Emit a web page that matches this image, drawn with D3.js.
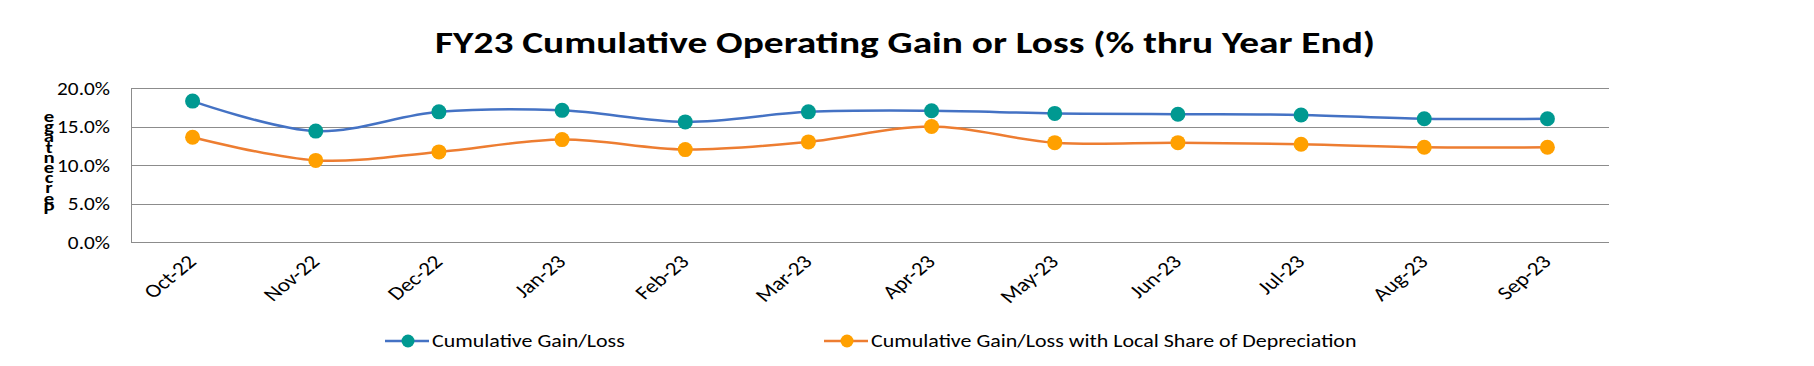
<!DOCTYPE html>
<html lang="en">
<head>
    <meta charset="UTF-8">
    <title>FY23 Cumulative Operating Gain or Loss</title>
    <script src="https://cdn.jsdelivr.net/npm/d3@7"></script>
    <style>
        body { margin: 0; background: #fff; overflow: hidden; }
        text { font-family: Calibri, Carlito, "Open Sans", sans-serif; fill: #000; }
    </style>
</head>
<body>
<svg id="chart" width="1814" height="366"></svg>
<script>
    const months = ['Oct-22', 'Nov-22', 'Dec-22', 'Jan-23', 'Feb-23', 'Mar-23',
        'Apr-23', 'May-23', 'Jun-23', 'Jul-23', 'Aug-23', 'Sep-23'];
    const gainLoss = [18.3, 14.4, 16.9, 17.1, 15.6, 16.9, 17.05, 16.7, 16.6, 16.5, 16.0, 16.0];
    const gainLossDep = [13.6, 10.6, 11.7, 13.3, 12.0, 13.0, 15.0, 12.9, 12.9, 12.7, 12.3, 12.3];
    const yTicks = [0, 5, 10, 15, 20];
    const seriesNames = ['Cumulative Gain/Loss', 'Cumulative Gain/Loss with Local Share of Depreciation'];

    const svg = d3.select('#chart');
    const plotLeft = 131, plotRight = 1609, plotTop = 88, plotBottom = 242;
    // the original export is stretched sideways, so text gets a horizontal scale too
    const stretch = 1.22;

    const x = d3.scaleBand().domain(months).range([plotLeft, plotRight]);
    const y = d3.scaleLinear().domain([0, 20]).range([plotBottom, plotTop]);
    const cx = m => x(m) + x.bandwidth() / 2;

    // title
    svg.append('text')
        .attr('transform', `translate(905,53) scale(1.27,1)`)
        .attr('text-anchor', 'middle')
        .style('font-size', '31px').style('font-weight', 'bold')
        .text('FY23 Cumulative Operating Gain or Loss (% thru Year End)');

    // grid lines
    svg.append('g').selectAll('line').data(yTicks).join('line')
        .attr('x1', plotLeft).attr('x2', plotRight)
        .attr('y1', d => Math.round(y(d)) + 0.5).attr('y2', d => Math.round(y(d)) + 0.5)
        .attr('stroke', '#8c8c8c').attr('stroke-width', 1);
    svg.append('line')
        .attr('x1', plotLeft + 0.5).attr('x2', plotLeft + 0.5)
        .attr('y1', plotTop).attr('y2', plotBottom + 1)
        .attr('stroke', '#8c8c8c');

    // y tick labels
    svg.append('g').selectAll('text').data(yTicks).join('text')
        .attr('transform', d => `translate(110,${y(d)}) scale(1.12,1)`)
        .attr('text-anchor', 'end').attr('dy', '0.35em')
        .style('font-size', '19px')
        .text(d => d.toFixed(1) + '%');

    // squashed vertical axis title, letters stacked bottom to top
    const yTitle = 'Percentage'.split('').reverse();
    svg.append('g').selectAll('text').data(yTitle).join('text')
        .attr('transform', (d, i) => `translate(49,${122 + i * 10.2}) scale(1.3,1)`)
        .attr('text-anchor', 'middle')
        .style('font-size', '16px').style('font-weight', 'bold')
        .text(d => d);

    // x labels
    svg.append('g').selectAll('text').data(months).join('text')
        .attr('transform', d => `translate(${cx(d) + 5},263) scale(${stretch},1) rotate(-45)`)
        .attr('text-anchor', 'end')
        .style('font-size', '19px')
        .text(d => d);

    const line = d3.line()
        .x((d, i) => cx(months[i]))
        .y(d => y(d))
        .curve(d3.curveCatmullRom.alpha(0.5));

    const series = [
        {name: seriesNames[0], values: gainLoss, stroke: '#4472c4', fill: '#009991'},
        {name: seriesNames[1], values: gainLossDep, stroke: '#ed7d31', fill: '#ffa000'}
    ];

    series.forEach(s => {
        svg.append('path')
            .datum(s.values)
            .attr('d', line)
            .attr('fill', 'none')
            .attr('stroke', s.stroke)
            .attr('stroke-width', 2.5);
        svg.append('g').selectAll('circle').data(s.values).join('circle')
            .attr('cx', (d, i) => cx(months[i]))
            .attr('cy', d => y(d))
            .attr('r', 7.5)
            .attr('fill', s.fill);
    });

    // legend
    const legendX = [385, 824];
    const legend = svg.append('g').selectAll('g').data(series).join('g')
        .attr('transform', (d, i) => `translate(${legendX[i]},341)`);
    legend.append('line')
        .attr('x1', 0).attr('x2', 44)
        .attr('stroke', d => d.stroke).attr('stroke-width', 2.5);
    legend.append('circle')
        .attr('cx', 23).attr('r', 6.5)
        .attr('fill', d => d.fill);
    legend.append('text')
        .attr('transform', `translate(47,0) scale(${stretch},1)`)
        .attr('dy', '0.35em')
        .style('font-size', '18px')
        .text(d => d.name);
</script>
</body>
</html>
